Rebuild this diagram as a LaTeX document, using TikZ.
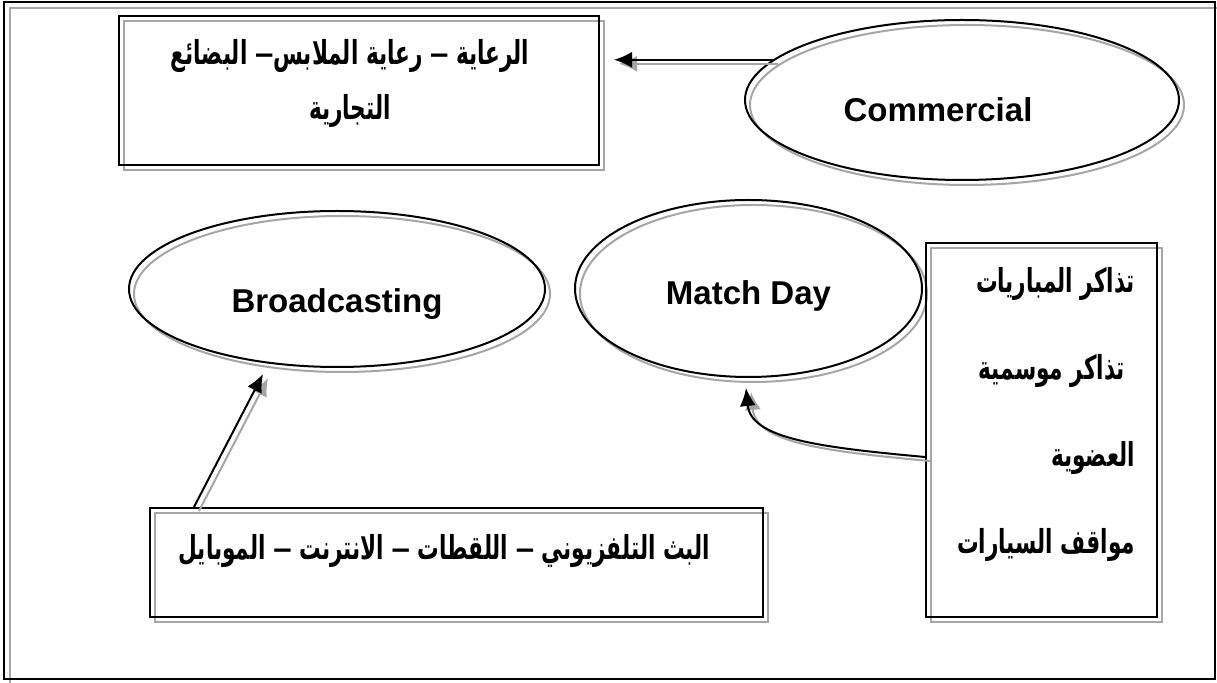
\documentclass[tikz,border=0pt]{standalone}
\usepackage{fontspec}
\setmainfont{Liberation Sans}
\newfontfamily\arabicfont[Script=Arabic, FakeStretch=0.655]{DejaVu Sans}
\TeXXeTstate=1
\newcommand\ardash{\textrm{–}}
\usetikzlibrary{shapes.geometric, arrows.meta, positioning, shadows}

\begin{document}
\begin{tikzpicture}[x=0.5pt, y=-0.5pt, >={Latex[length=9pt, width=8pt]}]
\tikzset{
    echo/.style={copy shadow={draw=gray!70, fill=none, opacity=1, shadow xshift=2.5pt, shadow yshift=-2.5pt}},
    box/.style={rectangle, draw, line width=1pt, echo},
    stream/.style={ellipse, draw, line width=1pt, echo, text depth=4pt, font=\bfseries\fontsize{16.5}{20}\selectfont},
    tag/.style={font=\arabicfont\bfseries\fontsize{16.5}{18}\selectfont},
    line/.style={->, line width=1pt},
    line echo/.style={line, gray!70, transform canvas={shift={(2.5pt,-2pt)}}}
}
\useasboundingbox (0,0) rectangle (1217,683);

% --- Outer frame ---
\draw[line width=1pt, gray!70] (10,8) rectangle (1221,685);
\draw[line width=1pt] (4,2) rectangle (1215,679);

% --- Revenue streams ---
\node[stream, text height=26pt, minimum width=217pt, minimum height=80pt] (comm) at (962,100) {Commercial\hspace*{24pt}};
\node[stream, text height=28pt, minimum width=208pt, minimum height=78pt] (bcast) at (337,289) {Broadcasting};
\node[stream, text height=20pt, minimum width=173.5pt, minimum height=88.5pt] (match) at (748.5,288.5) {Match Day};

% --- Sources ---
\node[box, minimum width=240pt, minimum height=74.5pt] (sponsor) at (359,90.5) {};
\node[tag, align=center] (sponsor text) at ([xshift=-4.5pt, yshift=3.5pt]sponsor.center)
    {\beginR الرعاية \ardash{} رعاية الملابس\ardash{} البضائع\endR \\[9.5pt] \beginR التجارية\endR};
\node[box, minimum width=306.5pt, minimum height=54.5pt] (media) at (456.5,562.5) {};
\node[tag] (media text) at ([xshift=-6pt, yshift=6pt]media.center)
    {\beginR البث التلفزيوني \ardash{} اللقطات \ardash{} الانترنت \ardash{} الموبايل\endR};
\node[box, minimum width=115.5pt, minimum height=187pt] (tickets) at (1041.5,430) {};
\node[tag, align=right, anchor=east] (tickets text) at ([xshift=-8pt, yshift=8pt]tickets.east)
    {\beginR تذاكر المباريات\endR \\[25.5pt] \beginR\kern5pt تذاكر موسمية\endR \\[25.5pt]
     \beginR العضوية\endR \\[25.5pt] \beginR مواقف السيارات\endR};

% --- Arrows ---
\draw[line echo, shorten >=7pt] (comm.168) -- (comm.168 -| sponsor.east);
\draw[line, shorten >=7pt] (comm.168) -- (comm.168 -| sponsor.east);

\draw[line echo] ([xshift=22.5pt]media.north west) -- ([xshift=-37pt, yshift=-3pt]bcast.south);
\draw[line] ([xshift=22.5pt]media.north west) -- ([xshift=-37pt, yshift=-3pt]bcast.south);

\draw[line echo] ([yshift=-13.5pt]tickets.west) .. controls +(-110,-10) and +(5,50) .. ([xshift=-1.25pt, yshift=-5pt]match.south);
\draw[line] ([yshift=-13.5pt]tickets.west) .. controls +(-110,-10) and +(5,50) .. ([xshift=-1.25pt, yshift=-5pt]match.south);

\end{tikzpicture}
\end{document}
